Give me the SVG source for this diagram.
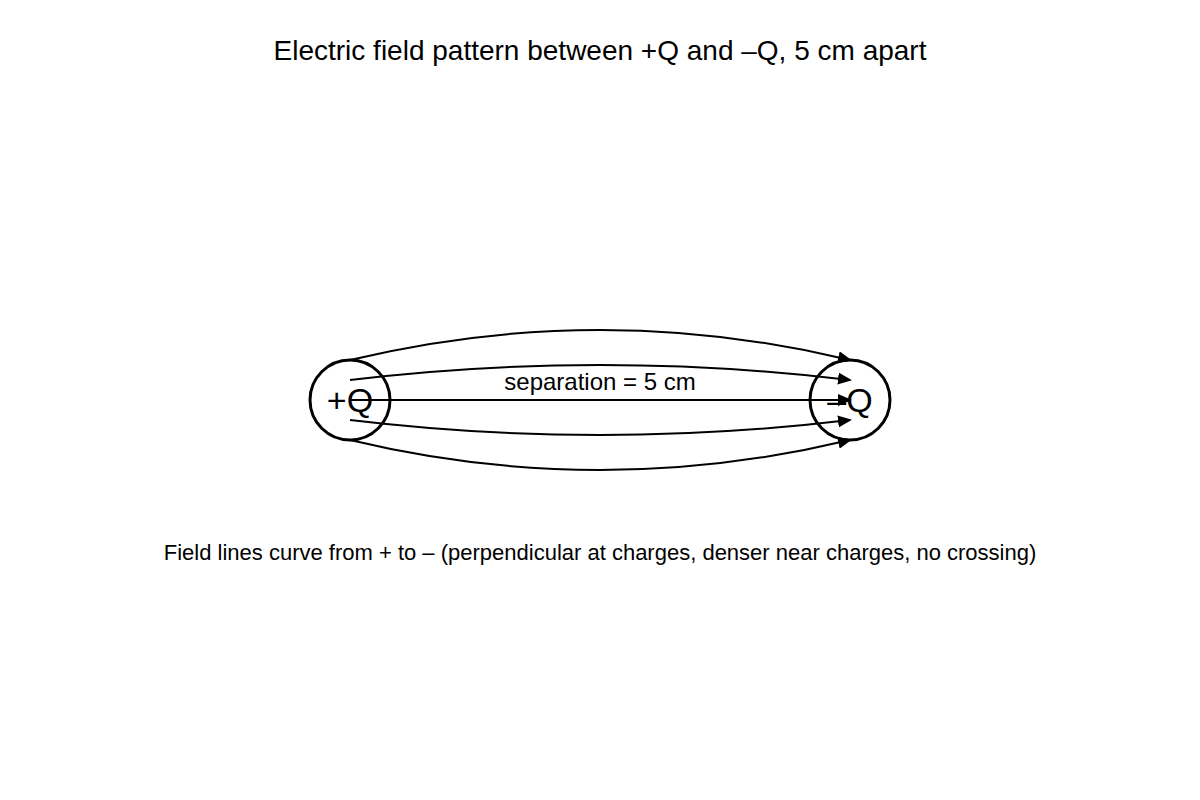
<svg xmlns="http://www.w3.org/2000/svg" width="1200" height="800" viewBox="0 0 1200 800">
<style>
text{font-family:"Liberation Sans",Arial,sans-serif;fill:#000}
.c{fill:#fff;stroke:#000;stroke-width:3}
.l{fill:none;stroke:#000;stroke-width:2;marker-end:url(#a)}
</style>
<defs><marker id="a" markerWidth="14" markerHeight="12" refX="12" refY="6" orient="auto" markerUnits="userSpaceOnUse"><path d="M0,0 L14,6 L0,12 Z" fill="#000"/></marker></defs>
<rect width="1200" height="800" fill="#fff"/>
<text x="600" y="60" font-size="28" text-anchor="middle">Electric field pattern between +Q and –Q, 5 cm apart</text>
<g id="pos"><circle class="c" cx="350" cy="400" r="40"/><text x="350" y="412" font-size="34" text-anchor="middle">+Q</text></g>
<g id="neg"><circle class="c" cx="850" cy="400" r="40"/><text x="850" y="412" font-size="34" text-anchor="middle">–Q</text></g>
<g id="connectors">
<path class="l" d="M350,360 Q600,300 850,360"/>
<path class="l" d="M350,380 Q600,350 850,380"/>
<path class="l" d="M350,400 L850,400"/>
<path class="l" d="M350,420 Q600,450 850,420"/>
<path class="l" d="M350,440 Q600,500 850,440"/>
</g>
<text x="600" y="390" font-size="24" text-anchor="middle">separation = 5 cm</text>
<text x="600" y="560" font-size="22" text-anchor="middle">Field lines curve from + to – (perpendicular at charges, denser near charges, no crossing)</text>
</svg>
